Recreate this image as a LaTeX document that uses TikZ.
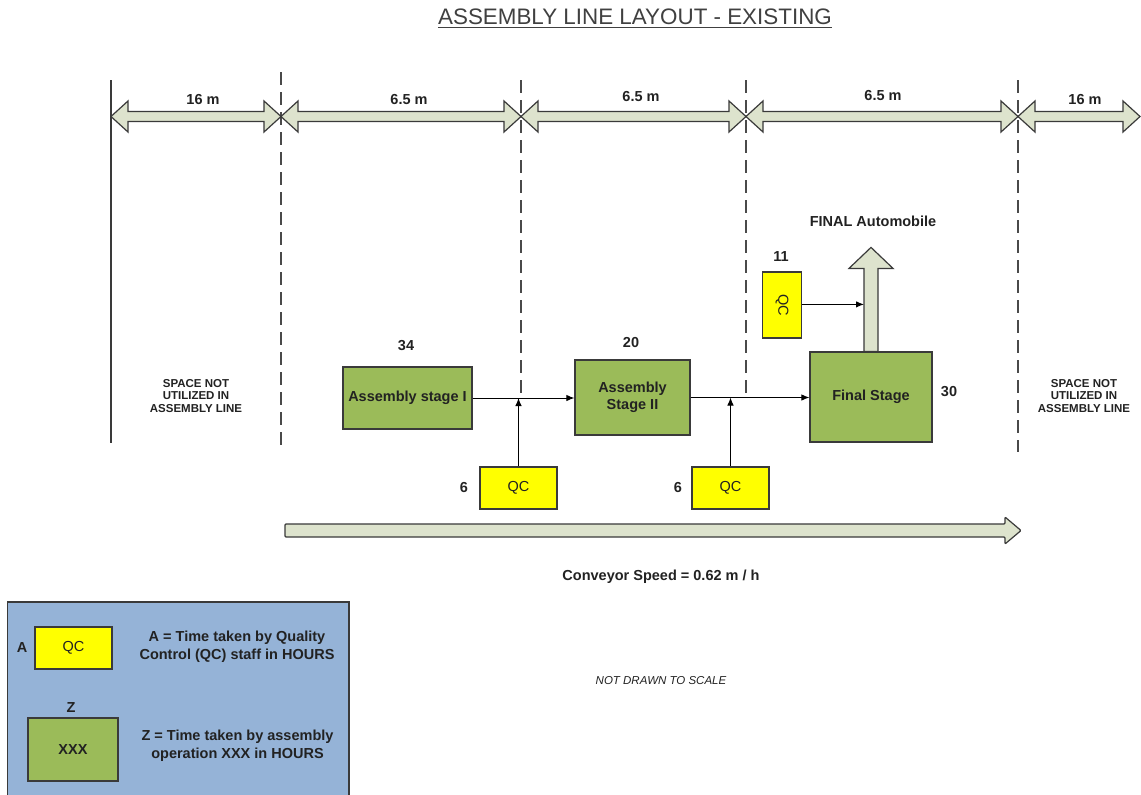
\documentclass[tikz,border=0pt]{standalone}
\usepackage{fontspec}
\setmainfont{Liberation Sans}
\usetikzlibrary{arrows.meta,calc}
\definecolor{stagegreen}{HTML}{9BBB59}
\definecolor{qcyellow}{HTML}{FFFF00}
\definecolor{legendblue}{HTML}{95B3D7}
\definecolor{arrowfill}{HTML}{DDE3CD}
\definecolor{edgegray}{HTML}{3A3A3A}
\definecolor{dashgray}{HTML}{4A4A4A}
\definecolor{ink}{HTML}{222222}
\definecolor{titleink}{HTML}{404040}
\tikzset{
  stagebox/.style={draw=edgegray, line width=1.2pt, fill=stagegreen, font=\fontsize{14.5}{17}\selectfont\bfseries, text=ink, align=center, inner sep=0pt},
  qcbox/.style={draw=edgegray, line width=1.2pt, fill=qcyellow, font=\fontsize{14.5}{17}\selectfont, text=ink, inner sep=0pt},
  lbl/.style={font=\fontsize{14.5}{17}\selectfont\bfseries, text=ink, inner sep=0pt},
  smalllbl/.style={font=\fontsize{11.5}{12.8}\selectfont\bfseries, text=ink, align=center, inner sep=0pt},
  legendtxt/.style={font=\fontsize{14.5}{18}\selectfont\bfseries, text=ink, align=center, inner sep=0pt},
  flow/.style={draw=black, line width=1pt, -{Latex[length=8pt,width=6.5pt]}},
  blockarrow/.style={draw=edgegray, line width=1.2pt, fill=arrowfill, line join=miter},
  divider/.style={draw=dashgray, line width=1.5pt, dash pattern=on 13pt off 7pt},
}
\newcommand\dimarrowshape[3]{%
  \path[blockarrow] (#1,#3) -- (#1+17,#3-15.5) -- (#1+17,#3-5) -- (#2-17,#3-5) -- (#2-17,#3-15.5) -- (#2,#3)
    -- (#2-17,#3+15.5) -- (#2-17,#3+5) -- (#1+17,#3+5) -- (#1+17,#3+15.5) -- cycle;}
\begin{document}
\begin{tikzpicture}[x=1pt,y=-1pt]
\useasboundingbox (0,0) rectangle (1141,795);
\fill[white] (0,0) rectangle (1141,795);

% title
\node[font=\fontsize{22.4}{26}\selectfont, text=titleink, inner sep=0pt, anchor=base] (title) at (635,24) {ASSEMBLY LINE LAYOUT - EXISTING};
\draw[titleink, line width=1.2pt] (title.base west) ++(0,3.5) -- ($(title.base east)+(0,3.5)$);

% dividers
\coordinate (d0t) at (111,80);  \coordinate (d0b) at (111,443);
\coordinate (d1t) at (281,72);  \coordinate (d1b) at (281,446);
\coordinate (d2t) at (521,80);  \coordinate (d2b) at (521,398);
\coordinate (d3t) at (746,80);  \coordinate (d3b) at (746,398);
\coordinate (d4t) at (1018,80); \coordinate (d4b) at (1018,452);
\draw[edgegray, line width=1.3pt] (d0t) -- (d0b);
\draw[divider] (d1t) -- (d1b);
\draw[divider] (d2t) -- (d2b);
\draw[divider] (d3t) -- (d3b);
\draw[divider] (d4t) -- (d4b);

% dimension arrows
\dimarrowshape{111}{281}{116.5}
\dimarrowshape{281}{521}{116.5}
\dimarrowshape{521}{746}{116.5}
\dimarrowshape{746}{1018}{116.5}
\dimarrowshape{1018}{1140}{116.5}
\node[lbl] (dim1) at (203,100) {16 m};
\node[lbl] (dim2) at (409,100) {6.5 m};
\node[lbl] (dim3) at (641,97) {6.5 m};
\node[lbl] (dim4) at (883,96) {6.5 m};
\node[lbl] (dim5) at (1085,100) {16 m};

% unused space
\node[smalllbl] (spaceL) at (196,396) {SPACE NOT\\UTILIZED IN\\ASSEMBLY LINE};
\node[smalllbl] (spaceR) at (1084,396) {SPACE NOT\\UTILIZED IN\\ASSEMBLY LINE};

% stages
\node[stagebox, minimum width=129pt, minimum height=62pt] (s1) at (407.5,398) {Assembly stage I};
\node[stagebox, minimum width=115pt, minimum height=75pt] (s2) at (632.5,397.5) {Assembly\\Stage II};
\node[stagebox, minimum width=122pt, minimum height=90pt] (fin) at (871,397) {Final Stage};
\node[lbl] (n34) at (406,346) {34};
\node[lbl] (n20) at (631,343) {20};
\node[lbl] (n30) at (949,392) {30};

% QC boxes
\node[qcbox, minimum width=77pt, minimum height=42pt] (qc1) at (518.5,488) {QC};
\node[qcbox, minimum width=77pt, minimum height=42pt] (qc2) at (730.5,488) {QC};
\node[qcbox, minimum width=39pt, minimum height=66pt] (qc3) at (782,305) {};
\node[font=\fontsize{14.5}{17}\selectfont, text=ink, rotate=-90, inner sep=0pt] (qc3t) at (qc3.center) {QC};
\node[lbl] (n6a) at (464,488) {6};
\node[lbl] (n6b) at (678,488) {6};
\node[lbl] (n11) at (781,257) {11};

% flow connectors
\draw[flow] (s1.east) -- (s1.east -| s2.west);
\draw[flow] (qc1.north) -- (qc1.north |- s1.east);
\draw[flow] (s2.east) -- (s2.east -| fin.west);
\draw[flow] (qc2.north) -- (qc2.north |- s2.east);

% final automobile arrow
\path[blockarrow] ($(fin.north)+(-7,0)$) -- ++(0,-83) -- ++(-15,0) -- ($(fin.north)+(0,-104)$)
  -- ($(fin.north)+(22,-83)$) -- ($(fin.north)+(7,-83)$) -- ($(fin.north)+(7,0)$) -- cycle;
\coordinate (shaftL) at ($(fin.north)+(-7,-47)$);
\draw[flow] (qc3.east |- shaftL) -- (shaftL);
\node[lbl] (finalauto) at (873,221) {FINAL Automobile};

% conveyor
\path[blockarrow, rounded corners=1pt] (285,524) -- (1005,524) -- (1005,517) -- (1021,530.5) -- (1005,544) -- (1005,537) -- (285,537) -- cycle;
\node[lbl] (conv) at (661,577) {Conveyor Speed = 0.62 m / h};

\node[font=\fontsize{11.5}{14}\selectfont\itshape, text=ink, inner sep=0pt] (scale) at (661,681) {NOT DRAWN TO SCALE};

% legend
\path[draw=edgegray, line width=1.2pt, fill=legendblue] (7.5,602) rectangle (349,797);
\node[qcbox, minimum width=77pt, minimum height=42pt] (lqc) at (73.5,648) {QC};
\node[lbl] (lA) at (22,648) {A};
\node[stagebox, minimum width=90pt, minimum height=63pt] (lxxx) at (73,749.5) {XXX};
\node[lbl] (lZ) at (71,708) {Z};
\node[legendtxt] (ltxt1) at (237,647) {A = Time taken by Quality\\Control (QC) staff in HOURS};
\node[legendtxt] (ltxt2) at (237.5,746) {Z = Time taken by assembly\\operation XXX in HOURS};
\end{tikzpicture}
\end{document}
